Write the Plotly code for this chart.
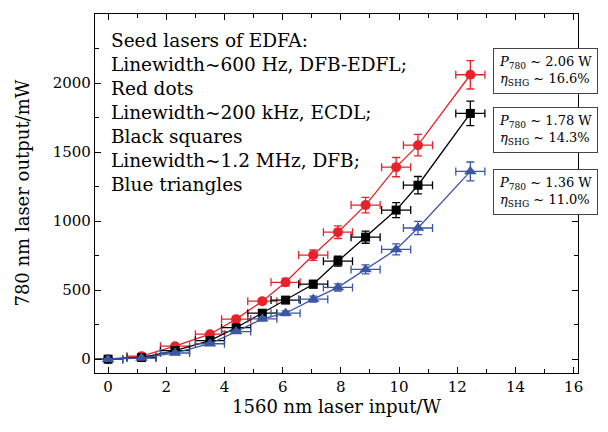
import plotly.graph_objects as go

x_in = [0, 1.15, 2.3, 3.5, 4.4, 5.3, 6.1, 7.05, 7.9, 8.85, 9.9, 10.65, 12.45]
red_y = [0, 22, 94, 181, 290, 420, 557, 754, 920, 1116, 1391, 1550, 2060]
black_y = [0, 12, 62, 135, 228, 333, 428, 543, 710, 884, 1080, 1260, 1780]
blue_y = [0, 8, 45, 112, 200, 292, 333, 435, 520, 650, 795, 950, 1360]
x_err = 0.5
y_err_pct = 5

series = [
    ("Red dots", red_y, "#e8222a", "circle", 10),
    ("Black squares", black_y, "#000000", "square", 9),
    ("Blue triangles", blue_y, "#3a56a5", "triangle-up", 11),
]

notes = [
    ("2.06 W", "16.6%", 0.842),
    ("1.78 W", "14.3%", 0.677),
    ("1.36 W", "11.0%", 0.503),
]

FONT = "DejaVu Serif"

fig = go.Figure()
for name, ys, col, sym, sz in series:
    fig.add_trace(go.Scatter(
        x=x_in, y=ys, mode="lines+markers", name=name,
        line=dict(color=col, width=1.3),
        marker=dict(symbol=sym, size=sz, color=col),
        error_x=dict(type="constant", value=x_err, color=col, thickness=1.3, width=4),
        error_y=dict(type="percent", value=y_err_pct, color=col, thickness=1.3, width=4),
        showlegend=False,
    ))

fig.add_annotation(
    xref="paper", yref="paper", x=0.03, y=0.962, xanchor="left", yanchor="top",
    text="Seed lasers of EDFA:<br>Linewidth~600 Hz, DFB-EDFL;<br>Red dots<br>"
         "Linewidth~200 kHz, ECDL;<br>Black squares<br>Linewidth~1.2 MHz, DFB;<br>Blue triangles",
    showarrow=False, align="left", font=dict(family=FONT, size=18.5, color="black"),
)
for p, eta, yv in notes:
    fig.add_annotation(
        xref="paper", yref="paper", x=0.824, y=yv, xanchor="left", yanchor="middle",
        text=f"<i>P</i><sub>780</sub> ~ {p}<br><i>η</i><sub>SHG</sub> ~ {eta}",
        showarrow=False, align="left", bordercolor="#444444", borderwidth=1,
        bgcolor="white", borderpad=5,
        font=dict(family=FONT, size=13, color="black"),
    )

fig.add_annotation(
    xref="paper", yref="paper", x=-0.151, y=0.5, xanchor="center", yanchor="middle",
    text="780 nm laser output/mW", textangle=-90, showarrow=False,
    font=dict(family=FONT, size=18, color="black"),
)

axis_common = dict(
    showgrid=False, zeroline=False, showline=True, linecolor="black", linewidth=1.2,
    mirror="allticks", ticks="inside", ticklen=6, tickcolor="black", tickwidth=1,
    tickfont=dict(family=FONT, size=15, color="black"),
)
fig.update_xaxes(range=[-0.45, 16.15], dtick=2, tick0=0,
                 minor=dict(ticks="inside", ticklen=4, dtick=1, tickcolor="black"),
                 title=dict(text="1560 nm laser input/W", font=dict(family=FONT, size=18, color="black"), standoff=5),
                 **axis_common)
fig.update_yaxes(range=[-100, 2500], dtick=500, tick0=0,
                 minor=dict(ticks="inside", ticklen=4, dtick=250, tickcolor="black"),
                 **axis_common)
fig.update_layout(
    width=608, height=432, plot_bgcolor="white", paper_bgcolor="white",
    font=dict(family=FONT, color="black"),
    margin=dict(l=87, r=38, t=6, b=67, autoexpand=False),
)
fig.write_html("out.html")
